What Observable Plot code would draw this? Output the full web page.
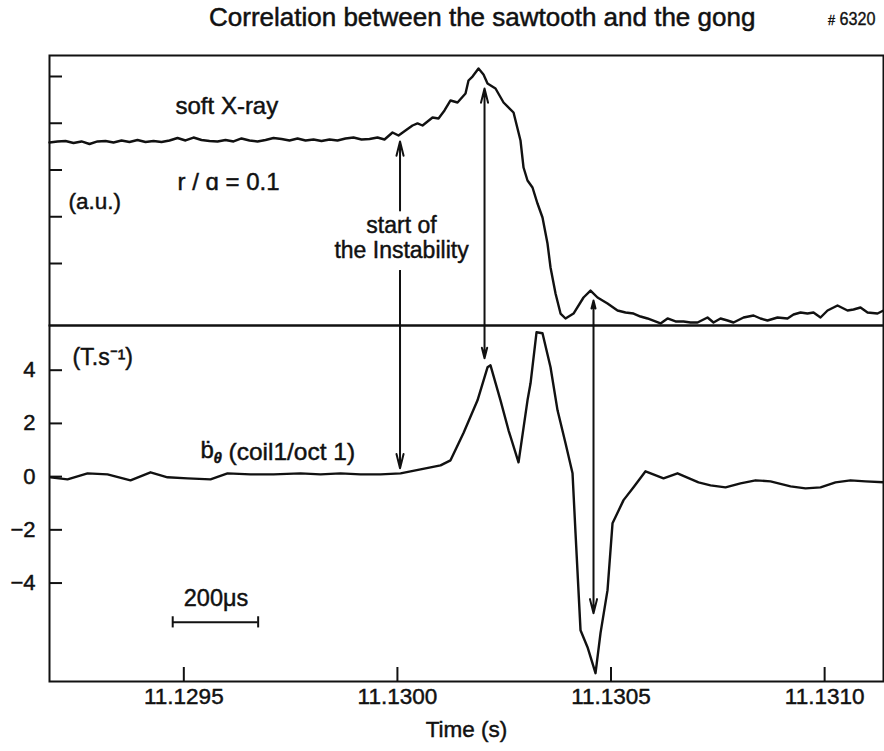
<!DOCTYPE html>
<html>
<head>
<meta charset="utf-8">
<script src="https://cdn.jsdelivr.net/npm/d3@7"></script>
<script src="https://cdn.jsdelivr.net/npm/@observablehq/plot@0.6"></script>
<style>
  body { margin: 0; background: white; }
  #wrap { position: relative; width: 884px; height: 751px; overflow: hidden; font-family: "Liberation Sans", Arial, Helvetica, sans-serif; color: #111; }
  #title { position: absolute; left: 209px; top: 4px; font-size: 26px; line-height: 26px; white-space: nowrap; -webkit-text-stroke: 0.5px #111; }
  #shot { position: absolute; left: 828px; top: 9px; font-size: 19px; line-height: 19px; white-space: nowrap; -webkit-text-stroke: 0.4px #111; transform: scaleX(0.85); transform-origin: left top; }
  #shot .hash { font-size: 15px; }
  #topPanel { position: absolute; left: 0; top: 45px; }
  #botPanel { position: absolute; left: 0; top: 325px; }
  #wrap svg text { stroke: #111; stroke-width: 0.45px; }
</style>
</head>
<body>
<div id="wrap">
  <div id="title">Correlation between the sawtooth and the gong</div>
  <div id="shot"><span class="hash">#</span> 6320</div>
  <div id="topPanel"></div>
  <div id="botPanel"></div>
</div>
<script>
// ---- data (time in s) ----
const xDomain = [11.1291856, 11.1311378];
const xTicks = [11.1295, 11.1300, 11.1305, 11.1310];

// soft X-ray, arbitrary units
const sxrTime = [
  11.1291856, 11.1292044, 11.1292231, 11.1292418, 11.1292605, 11.1292793, 11.1292980, 11.1293167,
  11.1293354, 11.1293542, 11.1293729, 11.1293916, 11.1294103, 11.1294291, 11.1294478, 11.1294665,
  11.1294853, 11.1295040, 11.1295227, 11.1295414, 11.1295602, 11.1295789, 11.1295976, 11.1296164,
  11.1296351, 11.1296538, 11.1296725, 11.1296913, 11.1297100, 11.1297287, 11.1297474, 11.1297662,
  11.1297849, 11.1298036, 11.1298223, 11.1298411, 11.1298598, 11.1298785, 11.1298972, 11.1299160,
  11.1299347, 11.1299534, 11.1299698, 11.1299885, 11.1300026, 11.1300189, 11.1300353, 11.1300470,
  11.1300588, 11.1300822, 11.1300962, 11.1301102, 11.1301243, 11.1301407, 11.1301594, 11.1301664,
  11.1301758, 11.1301898, 11.1302015, 11.1302109, 11.1302296, 11.1302484, 11.1302718, 11.1302881,
  11.1302952, 11.1303045, 11.1303162, 11.1303279, 11.1303396, 11.1303513, 11.1303584, 11.1303701,
  11.1303818, 11.1303935, 11.1304122, 11.1304356, 11.1304520, 11.1304684, 11.1304918, 11.1305152,
  11.1305339, 11.1305527, 11.1305690, 11.1305854, 11.1306159, 11.1306323, 11.1306510, 11.1306697,
  11.1306861, 11.1307025, 11.1307259, 11.1307399, 11.1307563, 11.1307727, 11.1307867, 11.1308102,
  11.1308336, 11.1308499, 11.1308663, 11.1308897, 11.1309131, 11.1309272, 11.1309436, 11.1309599,
  11.1309740, 11.1309904, 11.1310068, 11.1310302, 11.1310536, 11.1310676, 11.1310840, 11.1311004,
  11.1311238, 11.1311378
];
const sxrValue = [
  3.588, 3.610, 3.620, 3.578, 3.610, 3.556, 3.610, 3.620,
  3.588, 3.631, 3.599, 3.642, 3.599, 3.620, 3.599, 3.631,
  3.684, 3.631, 3.695, 3.642, 3.620, 3.610, 3.642, 3.610,
  3.674, 3.631, 3.610, 3.642, 3.684, 3.663, 3.631, 3.674,
  3.631, 3.652, 3.620, 3.652, 3.631, 3.674, 3.695, 3.652,
  3.663, 3.695, 3.652, 3.802, 3.738, 3.845, 3.952, 3.995,
  3.952, 4.123, 4.102, 4.273, 4.487, 4.444, 4.636, 4.914,
  4.999, 5.170, 5.043, 4.850, 4.743, 4.444, 4.230, 3.631,
  3.053, 2.775, 2.626, 2.283, 1.984, 1.428, 0.915, 0.358,
  -0.070, -0.176, -0.070, 0.273, 0.422, 0.273, 0.144, -0.005,
  -0.048, -0.070, -0.134, -0.176, -0.283, -0.176, -0.240, -0.240,
  -0.262, -0.262, -0.155, -0.262, -0.176, -0.219, -0.262, -0.155,
  -0.112, -0.176, -0.219, -0.155, -0.176, -0.091, -0.048, -0.070,
  -0.048, -0.155, -0.005, 0.102, -0.005, 0.016, 0.059, -0.048,
  -0.070, -0.005
];

// b-dot (T/s)
const bdotTime = [
  11.1291880, 11.1292278, 11.1292746, 11.1293214, 11.1293752, 11.1294221, 11.1294618, 11.1295087,
  11.1295625, 11.1296023, 11.1296561, 11.1297100, 11.1297732, 11.1298200, 11.1298668, 11.1299136,
  11.1299604, 11.1300073, 11.1300541, 11.1301009, 11.1301243, 11.1301547, 11.1301875, 11.1302109,
  11.1302179, 11.1302413, 11.1302601, 11.1302835, 11.1303045, 11.1303116, 11.1303256, 11.1303396,
  11.1303584, 11.1303748, 11.1303935, 11.1304099, 11.1304169, 11.1304286, 11.1304450, 11.1304637,
  11.1304754, 11.1304918, 11.1305035, 11.1305293, 11.1305527, 11.1305808, 11.1306229, 11.1306556,
  11.1307048, 11.1307329, 11.1307680, 11.1308031, 11.1308382, 11.1308733, 11.1309202, 11.1309553,
  11.1309904, 11.1310255, 11.1310606, 11.1310957, 11.1311378
];
const bdotValue = [
  -0.026, -0.102, 0.124, 0.086, -0.139, 0.162, -0.026, -0.064,
  -0.102, 0.124, 0.086, 0.086, 0.124, 0.086, 0.124, 0.086,
  0.086, 0.124, 0.274, 0.425, 0.613, 1.639, 2.868, 4.109,
  4.184, 2.868, 1.741, 0.538, 2.868, 3.508, 5.425, 5.387,
  4.109, 2.492, 1.252, 0.124, -2.124, -5.771, -6.410, -7.387,
  -5.883, -4.267, -1.756, -0.883, -0.402, 0.199, -0.064, 0.124,
  -0.214, -0.327, -0.402, -0.252, -0.139, -0.177, -0.365, -0.440,
  -0.402, -0.214, -0.139, -0.177, -0.214
];

const auDomain = [-0.326, 5.449];
const auTicks = [1, 2, 3, 4, 5];
const bdotDomain = [-7.70, 5.68];
const bdotTicks = [-4, -2, 0, 2, 4];

// arrows: times and tips
const arrowTime = [11.1300061, 11.1302039, 11.1304590];
const arrowTopTail = [2.134, -0.326, -0.326];
const arrowTopTip = [3.610, 4.743, 0.209];
const arrowBotTail = [5.68, 5.68, 5.68];
const arrowBotTip = [0.312, 4.447, -5.139];
const linkTime = [11.1300061];
const linkFrom = [0.850];
const linkTo = [-0.326];

// annotations
const topLabels = ["soft X-ray", "r / \u0251 = 0.1", "(a.u.)", "start of", "the Instability"];
const topLabelTime = [11.1294806, 11.1294853, 11.1292301, 11.1300096, 11.1300096];
const topLabelValue = [4.358, 2.743, 2.326, 1.813, 1.278];
const topLabelAnchor = ["start", "start", "start", "middle", "middle"];
const topLabelSize = [24, 24, 22.5, 23, 23];

const botLabels = ["(T.s\u207B\u00B9)", "\u1E03", "(coil1/oct 1)", "200\u03BCs"];
const botLabelTime = [11.1292397, 11.1295391, 11.1296046, 11.1295754];
const botLabelValue = [4.485, 0.989, 0.914, -4.575];
const botLabelAnchor = ["start", "start", "start", "middle"];
const botLabelSize = [23, 24, 24.5, 23.5];
const subLabel = ["\u03B8"];
const subLabelTime = [11.1295695];
const subLabelValue = [0.688];

const scaleBarTime = [11.129474, 11.129674];
const scaleBarValue = -5.477;
const scaleBarCap = 0.21;
const xLabel = ["Time (s)"];

// ---- build tables ----
const sxr = sxrTime.map((t, i) => ({t, v: sxrValue[i]}));
const bdot = bdotTime.map((t, i) => ({t, v: bdotValue[i]}));
const arrowsTop = arrowTime.map((t, i) => ({t, y1: arrowTopTail[i], y2: arrowTopTip[i]}));
const arrowsBot = arrowTime.map((t, i) => ({t, y1: arrowBotTail[i], y2: arrowBotTip[i]}));
const links = linkTime.map((t, i) => ({t, y1: linkFrom[i], y2: linkTo[i]}));
const topAnn = topLabels.map((s, i) => ({s, t: topLabelTime[i], v: topLabelValue[i], a: topLabelAnchor[i], f: topLabelSize[i]}));
const botAnn = botLabels.map((s, i) => ({s, t: botLabelTime[i], v: botLabelValue[i], a: botLabelAnchor[i], f: botLabelSize[i]}));
const subAnn = subLabel.map((s, i) => ({s, t: subLabelTime[i], v: subLabelValue[i]}));
const bar = [{t1: scaleBarTime[0], t2: scaleBarTime[1], v: scaleBarValue}];
const caps = scaleBarTime.map(t => ({t, y1: scaleBarValue - scaleBarCap, y2: scaleBarValue + scaleBarCap}));

const FONT = '"Liberation Sans", Arial, Helvetica, sans-serif';
const INK = "#111";
const baseStyle = {fontFamily: FONT, fontSize: "22.5px", overflow: "visible", color: INK, background: "transparent"};

const arrowOpts = {stroke: INK, strokeWidth: 2, headAngle: 28, headLength: 11};

function annText(data) {
  const marks = [];
  for (const d of data) {
    marks.push(Plot.text([d], {x: "t", y: "v", text: "s", textAnchor: d.a, fontSize: d.f, fill: INK}));
  }
  return marks;
}

const topPlot = Plot.plot({
  width: 884, height: 280,
  marginLeft: 49, marginRight: 1, marginTop: 10, marginBottom: 0,
  style: baseStyle,
  x: {domain: xDomain, axis: null},
  y: {domain: auDomain},
  marks: [
    Plot.axisY({ticks: auTicks, tickSize: -13, tickPadding: 20, tickFormat: () => "", label: null, strokeWidth: 2, stroke: INK}),
    Plot.line(sxr, {x: "t", y: "v", stroke: INK, strokeWidth: 2.4, strokeLinejoin: "round"}),
    Plot.arrow(arrowsTop, {x1: "t", x2: "t", y1: "y1", y2: "y2", ...arrowOpts}),
    Plot.ruleX(links, {x: "t", y1: "y1", y2: "y2", stroke: INK, strokeWidth: 2}),
    ...annText(topAnn),
    Plot.frame({stroke: INK, strokeWidth: 2})
  ]
});
document.getElementById("topPanel").appendChild(topPlot);

const botPlot = Plot.plot({
  width: 884, height: 426,
  marginLeft: 49, marginRight: 1, marginTop: 0, marginBottom: 70,
  style: baseStyle,
  x: {domain: xDomain},
  y: {domain: bdotDomain},
  marks: [
    Plot.axisY({ticks: bdotTicks, tickSize: -13, tickPadding: 27, label: null, strokeWidth: 2, stroke: INK, fill: INK, fontSize: 22}),
    Plot.axisX({ticks: xTicks, tickSize: -14, tickPadding: 21, tickFormat: d3.format(".4f"), label: null, strokeWidth: 2, stroke: INK, fill: INK, fontSize: 22.5}),
    Plot.text(xLabel, {frameAnchor: "bottom", dy: 55, text: d => d, fontSize: 22.5, fill: INK}),
    Plot.line(bdot, {x: "t", y: "v", stroke: INK, strokeWidth: 2.4, strokeLinejoin: "round"}),
    Plot.arrow(arrowsBot, {x1: "t", x2: "t", y1: "y1", y2: "y2", ...arrowOpts}),
    Plot.ruleY(bar, {x1: "t1", x2: "t2", y: "v", stroke: INK, strokeWidth: 2}),
    Plot.ruleX(caps, {x: "t", y1: "y1", y2: "y2", stroke: INK, strokeWidth: 2}),
    ...annText(botAnn),
    Plot.text(subAnn, {x: "t", y: "v", text: "s", textAnchor: "start", fontSize: 15, fontStyle: "italic", fontWeight: "bold", fill: INK}),
    Plot.frame({stroke: INK, strokeWidth: 2})
  ]
});
document.getElementById("botPanel").appendChild(botPlot);
</script>
</body>
</html>
